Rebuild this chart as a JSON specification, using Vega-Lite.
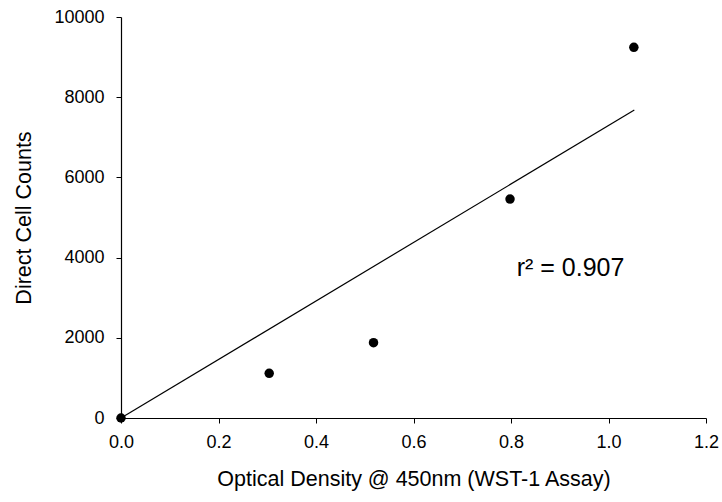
{
  "$schema": "https://vega.github.io/schema/vega-lite/v6.json",
  "autosize": {"type": "none"},
  "width": 585,
  "height": 401,
  "padding": {"left": 121, "top": 17, "right": 16, "bottom": 84},
  "background": "white",
  "config": {
    "view": {"stroke": null},
    "font": "Liberation Sans",
    "axis": {
      "grid": false,
      "domainColor": "black",
      "domainWidth": 1.2,
      "tickColor": "black",
      "tickWidth": 1,
      "tickSize": 5,
      "labelFlush": false,
      "labelOverlap": false,
      "labelFont": "Liberation Sans",
      "labelFontSize": 18,
      "labelColor": "black",
      "titleFont": "Liberation Sans",
      "titleFontSize": 21.5,
      "titleFontWeight": "normal",
      "titleColor": "black"
    }
  },
  "datasets": {
    "points": [
      {"od": 0.0, "count": 0},
      {"od": 0.304, "count": 1115},
      {"od": 0.518, "count": 1878},
      {"od": 0.798, "count": 5460},
      {"od": 1.052, "count": 9244}
    ],
    "fit": [
      {"od": 0.0, "count": 0},
      {"od": 1.053, "count": 7681}
    ],
    "note": [
      {"od": 0.8117, "count": 3541, "label": "r² = 0.907"}
    ]
  },
  "layer": [
    {
      "data": {"name": "fit"},
      "mark": {"type": "line", "color": "black", "strokeWidth": 1.2, "clip": false},
      "encoding": {
        "x": {"field": "od", "type": "quantitative"},
        "y": {"field": "count", "type": "quantitative"}
      }
    },
    {
      "data": {"name": "points"},
      "mark": {"type": "point", "filled": true, "color": "black", "opacity": 1, "size": 90, "clip": false},
      "encoding": {
        "x": {
          "field": "od", "type": "quantitative",
          "scale": {"domain": [0, 1.2], "nice": false, "zero": false},
          "axis": {"title": "Optical Density @ 450nm (WST-1 Assay)", "values": [0, 0.2, 0.4, 0.6, 0.8, 1.0, 1.2], "format": ".1f", "labelPadding": 10, "titlePadding": 17}
        },
        "y": {
          "field": "count", "type": "quantitative",
          "scale": {"domain": [0, 10000], "nice": false},
          "axis": {"title": "Direct Cell Counts", "values": [0, 2000, 4000, 6000, 8000, 10000], "format": "d", "labelPadding": 12, "titlePadding": 18}
        }
      }
    },
    {
      "data": {"name": "note"},
      "mark": {"type": "text", "align": "left", "baseline": "alphabetic", "fontSize": 25, "color": "black", "font": "Liberation Sans"},
      "encoding": {
        "x": {"field": "od", "type": "quantitative"},
        "y": {"field": "count", "type": "quantitative"},
        "text": {"field": "label"}
      }
    }
  ]
}
